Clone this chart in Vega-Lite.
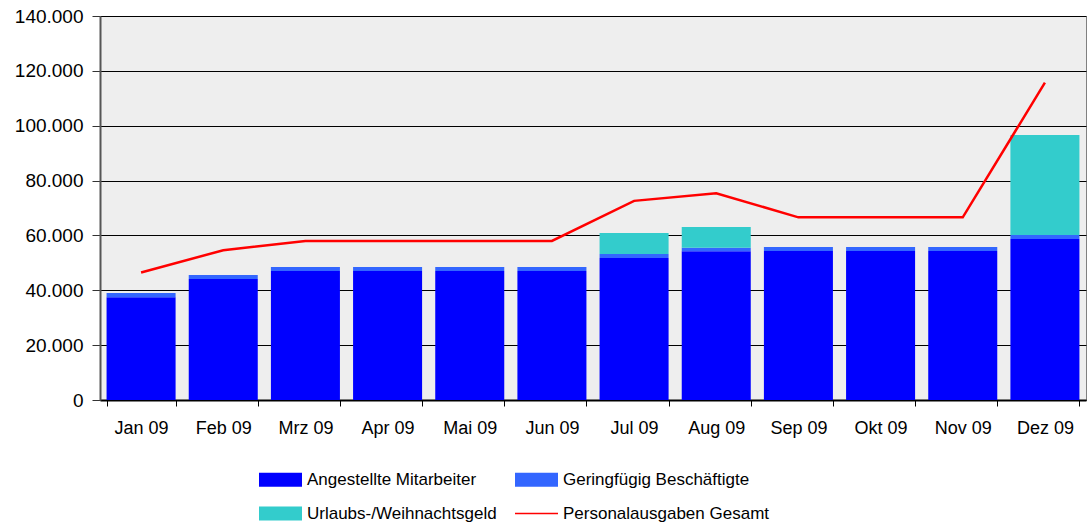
{
  "$schema": "https://vega.github.io/schema/vega-lite/v6.json",
  "width": 986,
  "height": 384,
  "autosize": "none",
  "padding": {"left": 100, "top": 16, "right": 2, "bottom": 126},
  "background": "white",
  "config": {
    "locale": {"number": {"decimal": ",", "thousands": ".", "grouping": [3], "currency": ["", " €"]}},
    "view": {"fill": "#eeeeee", "stroke": "#808080", "strokeWidth": 1},
    "font": "Liberation Sans"
  },
  "datasets": {
    "bars": [
      {"Monat": "Jan 09", "Reihe": "Angestellte Mitarbeiter", "Wert": 37500},
      {"Monat": "Jan 09", "Reihe": "Geringfügig Beschäftigte", "Wert": 1500},
      {"Monat": "Feb 09", "Reihe": "Angestellte Mitarbeiter", "Wert": 44100},
      {"Monat": "Feb 09", "Reihe": "Geringfügig Beschäftigte", "Wert": 1500},
      {"Monat": "Mrz 09", "Reihe": "Angestellte Mitarbeiter", "Wert": 47000},
      {"Monat": "Mrz 09", "Reihe": "Geringfügig Beschäftigte", "Wert": 1500},
      {"Monat": "Apr 09", "Reihe": "Angestellte Mitarbeiter", "Wert": 47000},
      {"Monat": "Apr 09", "Reihe": "Geringfügig Beschäftigte", "Wert": 1500},
      {"Monat": "Mai 09", "Reihe": "Angestellte Mitarbeiter", "Wert": 47000},
      {"Monat": "Mai 09", "Reihe": "Geringfügig Beschäftigte", "Wert": 1500},
      {"Monat": "Jun 09", "Reihe": "Angestellte Mitarbeiter", "Wert": 47000},
      {"Monat": "Jun 09", "Reihe": "Geringfügig Beschäftigte", "Wert": 1500},
      {"Monat": "Jul 09", "Reihe": "Angestellte Mitarbeiter", "Wert": 51800},
      {"Monat": "Jul 09", "Reihe": "Geringfügig Beschäftigte", "Wert": 1400},
      {"Monat": "Jul 09", "Reihe": "Urlaubs-/Weihnachtsgeld", "Wert": 7700},
      {"Monat": "Aug 09", "Reihe": "Angestellte Mitarbeiter", "Wert": 54200},
      {"Monat": "Aug 09", "Reihe": "Geringfügig Beschäftigte", "Wert": 1300},
      {"Monat": "Aug 09", "Reihe": "Urlaubs-/Weihnachtsgeld", "Wert": 7600},
      {"Monat": "Sep 09", "Reihe": "Angestellte Mitarbeiter", "Wert": 54300},
      {"Monat": "Sep 09", "Reihe": "Geringfügig Beschäftigte", "Wert": 1500},
      {"Monat": "Okt 09", "Reihe": "Angestellte Mitarbeiter", "Wert": 54300},
      {"Monat": "Okt 09", "Reihe": "Geringfügig Beschäftigte", "Wert": 1500},
      {"Monat": "Nov 09", "Reihe": "Angestellte Mitarbeiter", "Wert": 54300},
      {"Monat": "Nov 09", "Reihe": "Geringfügig Beschäftigte", "Wert": 1500},
      {"Monat": "Dez 09", "Reihe": "Angestellte Mitarbeiter", "Wert": 58700},
      {"Monat": "Dez 09", "Reihe": "Geringfügig Beschäftigte", "Wert": 1500},
      {"Monat": "Dez 09", "Reihe": "Urlaubs-/Weihnachtsgeld", "Wert": 36400}
    ],
    "linie": [
      {"Monat": "Jan 09", "Reihe": "Personalausgaben Gesamt", "Wert": 46500},
      {"Monat": "Feb 09", "Reihe": "Personalausgaben Gesamt", "Wert": 54600},
      {"Monat": "Mrz 09", "Reihe": "Personalausgaben Gesamt", "Wert": 58000},
      {"Monat": "Apr 09", "Reihe": "Personalausgaben Gesamt", "Wert": 58000},
      {"Monat": "Mai 09", "Reihe": "Personalausgaben Gesamt", "Wert": 58000},
      {"Monat": "Jun 09", "Reihe": "Personalausgaben Gesamt", "Wert": 58000},
      {"Monat": "Jul 09", "Reihe": "Personalausgaben Gesamt", "Wert": 72600},
      {"Monat": "Aug 09", "Reihe": "Personalausgaben Gesamt", "Wert": 75400},
      {"Monat": "Sep 09", "Reihe": "Personalausgaben Gesamt", "Wert": 66600},
      {"Monat": "Okt 09", "Reihe": "Personalausgaben Gesamt", "Wert": 66600},
      {"Monat": "Nov 09", "Reihe": "Personalausgaben Gesamt", "Wert": 66600},
      {"Monat": "Dez 09", "Reihe": "Personalausgaben Gesamt", "Wert": 115700}
    ]
  },
  "encoding": {
    "x": {
      "field": "Monat", "type": "nominal", "sort": null,
      "scale": {"paddingInner": 0.16, "paddingOuter": 0.08},
      "axis": {
        "title": null, "labelAngle": 0, "tickBand": "extent", "tickSize": 6,
        "labelPadding": 13, "labelFontSize": 18, "labelColor": "black",
        "domainColor": "black", "domainWidth": 2, "tickColor": "black", "grid": false
      }
    },
    "y": {
      "field": "Wert", "type": "quantitative",
      "scale": {"domain": [0, 140000], "nice": false},
      "axis": {
        "title": null, "values": [0, 20000, 40000, 60000, 80000, 100000, 120000, 140000],
        "format": ",d", "tickSize": 8, "labelPadding": 9, "labelFontSize": 19,
        "labelColor": "black", "domainColor": "#555555", "domainWidth": 2,
        "tickColor": "#333333", "grid": true, "gridColor": "black", "gridWidth": 1, "gridOpacity": 1
      }
    },
    "color": {
      "field": "Reihe", "type": "nominal",
      "scale": {
        "domain": ["Angestellte Mitarbeiter", "Geringfügig Beschäftigte", "Urlaubs-/Weihnachtsgeld", "Personalausgaben Gesamt"],
        "range": ["#0000ff", "#3366ff", "#33cccc", "#ff0000"]
      },
      "legend": {
        "title": null, "orient": "none", "legendX": 159, "legendY": 442,
        "direction": "horizontal", "columns": 2, "columnPadding": 18, "rowPadding": 4,
        "labelFontSize": 17, "labelColor": "black", "labelOffset": 5, "labelLimit": 400,
        "symbolSize": 1849, "symbolStrokeWidth": 0,
        "symbolType": "M-1,-0.3256H1V0.3256H-1Z",
        "encode": {
          "symbols": {
            "update": {
              "shape": {"signal": "datum.value === 'Personalausgaben Gesamt' ? 'M-1,-0.04H1V0.04H-1Z' : 'M-1,-0.3256H1V0.3256H-1Z'"},
              "fill": {"scale": "color", "field": "value"},
              "strokeWidth": {"value": 0},
              "opacity": {"value": 1}
            }
          }
        }
      }
    }
  },
  "layer": [
    {"data": {"name": "bars"}, "mark": {"type": "bar"}, "encoding": {"order": {"field": "Reihe", "sort": "ascending"}}},
    {"data": {"name": "linie"}, "mark": {"type": "line", "strokeWidth": 2.5}}
  ]
}
